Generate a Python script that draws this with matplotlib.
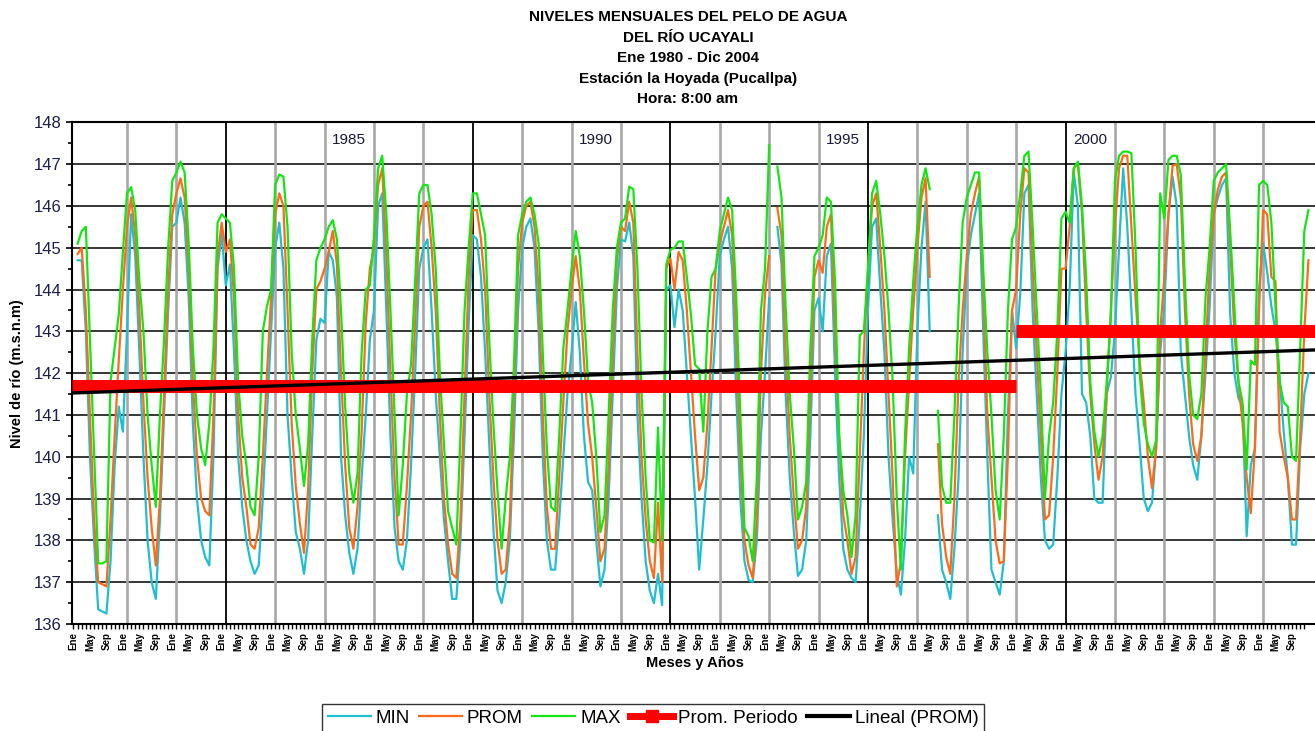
import numpy as np
import matplotlib
matplotlib.use("Agg")
import matplotlib.pyplot as plt
from matplotlib.lines import Line2D

plt.rcParams['font.family'] = ['Liberation Sans', 'DejaVu Sans']

nan = np.nan

# Monthly river levels (m.s.n.m), Ene 1980 - Dic 2004, one row per year
YEARS = list(range(1980, 2005))
MONTH_LABELS = ['Ene', 'May', 'Sep']

MAX_VALS = [
    145.1, 145.4, 145.5, 142.8, 140.1, 137.45, 137.45, 137.5, 141.8, 142.6, 143.4, 144.9,   # 1980
    146.3, 146.45, 145.9, 144.2, 143.0, 141.0, 139.8, 138.8, 141.0, 142.8, 145.0, 146.6,    # 1981
    146.8, 147.06, 146.8, 145.1, 142.6, 141.0, 140.2, 139.8, 140.8, 142.6, 145.6, 145.8,    # 1982
    145.7, 145.6, 144.5, 141.8, 140.5, 139.8, 138.8, 138.6, 140.0, 143.0, 143.6, 144.0,     # 1983
    146.5, 146.75, 146.7, 145.5, 142.5, 141.0, 140.2, 139.3, 140.3, 142.8, 144.7, 145.0,    # 1984
    145.2, 145.5, 145.66, 145.2, 143.5, 141.2, 139.6, 138.9, 139.6, 142.5, 144.0, 144.1,    # 1985
    145.3, 146.9, 147.2, 145.8, 143.5, 141.0, 138.6, 139.8, 141.5, 142.2, 144.2, 146.3,     # 1986
    146.5, 146.5, 145.8, 144.5, 142.0, 140.3, 138.7, 138.3, 137.9, 140.5, 143.5, 145.0,     # 1987
    146.3, 146.3, 145.8, 145.3, 142.8, 140.8, 139.2, 137.8, 139.0, 140.0, 142.2, 145.3,     # 1988
    145.8, 146.1, 146.2, 145.8, 145.1, 142.5, 140.2, 138.8, 138.7, 140.5, 142.6, 143.5,     # 1989
    144.5, 145.4, 144.8, 143.5, 141.8, 141.3, 140.0, 138.2, 138.6, 141.0, 143.5, 145.0,     # 1990
    145.6, 145.7, 146.46, 146.4, 144.5, 141.5, 139.5, 138.0, 137.95, 140.7, 138.0, 144.6,   # 1991
    144.95, 145.0, 145.15, 145.15, 144.3, 143.4, 142.2, 142.1, 140.6, 143.0, 144.3, 144.5,  # 1992
    145.4, 145.8, 146.2, 145.9, 143.8, 141.0, 138.3, 138.1, 137.5, 139.5, 143.5, 144.5,     # 1993
    147.45, nan, 146.94, 146.2, 143.6, 141.5, 140.2, 138.5, 138.8, 139.4, 142.6, 144.8,     # 1994
    145.0, 145.3, 146.2, 146.1, 144.2, 140.5, 139.2, 138.6, 137.6, 138.6, 142.9, 143.0,     # 1995
    144.5, 146.3, 146.6, 145.8, 144.8, 143.5, 141.8, 139.0, 137.3, 140.5, 142.6, 144.2,     # 1996
    145.5, 146.5, 146.9, 146.4, nan, 141.1, 139.3, 138.9, 138.9, 141.0, 143.5, 145.6,       # 1997
    146.2, 146.5, 146.8, 146.8, 144.5, 142.5, 141.0, 139.2, 138.5, 140.5, 143.5, 145.2,     # 1998
    145.5, 146.3, 147.2, 147.3, 145.5, 143.5, 141.5, 139.0, 140.5, 141.3, 143.0, 145.7,     # 1999
    145.86, 145.6, 146.9, 147.06, 146.0, 144.3, 141.8, 140.6, 140.0, 140.5, 141.8, 143.3,   # 2000
    146.6, 147.2, 147.3, 147.3, 147.26, 145.0, 142.0, 140.8, 140.3, 140.0, 140.4, 146.3,    # 2001
    145.7, 147.1, 147.2, 147.2, 146.75, 144.2, 142.0, 141.0, 140.9, 141.5, 143.8, 145.0,    # 2002
    146.6, 146.8, 146.9, 147.0, 145.4, 143.6, 141.8, 141.3, 139.7, 142.3, 142.2, 146.5,     # 2003
    146.6, 146.5, 145.6, 143.6, 141.8, 141.3, 141.2, 140.0, 139.9, 142.6, 145.4, 145.9,     # 2004
]

PROM_VALS = [
    144.85, 145.0, 143.5, 141.0, 138.5, 137.0, 136.95, 136.9, 138.5, 140.5, 142.3, 144.0,  # 1980
    145.5, 146.2, 145.3, 143.5, 141.3, 139.5, 138.3, 137.4, 139.0, 141.5, 144.0, 145.8,    # 1981
    146.3, 146.66, 146.2, 144.5, 141.8, 140.0, 139.0, 138.7, 138.6, 141.0, 144.8, 145.6,   # 1982
    144.9, 145.2, 143.8, 141.0, 139.5, 138.8, 137.9, 137.8, 138.3, 140.0, 142.0, 143.8,    # 1983
    145.8, 146.3, 146.0, 143.5, 140.8, 139.3, 138.4, 137.7, 139.2, 142.0, 144.0, 144.2,    # 1984
    144.5, 144.9, 145.4, 144.6, 142.0, 139.8, 138.3, 137.8, 138.8, 140.6, 143.2, 144.5,    # 1985
    145.0, 146.5, 146.9, 144.8, 142.0, 139.5, 137.9, 137.9, 139.3, 141.0, 143.2, 145.5,    # 1986
    146.0, 146.1, 145.0, 143.5, 141.0, 139.0, 137.9, 137.2, 137.1, 138.5, 141.5, 144.3,    # 1987
    145.9, 145.9, 145.2, 144.0, 141.5, 139.5, 138.0, 137.2, 137.3, 138.5, 141.5, 144.5,    # 1988
    145.6, 146.0, 146.1, 145.5, 144.0, 141.0, 138.8, 137.8, 137.8, 139.5, 141.3, 143.0,    # 1989
    144.0, 144.8, 144.0, 142.3, 140.8, 140.0, 138.8, 137.5, 137.8, 139.8, 142.5, 144.7,    # 1990
    145.5, 145.4, 146.1, 145.6, 142.5, 140.0, 138.5, 137.5, 137.1, 138.9, 137.0, 144.5,    # 1991
    144.75, 144.0, 144.9, 144.7, 143.5, 142.0, 140.5, 139.2, 139.5, 140.8, 142.6, 144.5,   # 1992
    145.1, 145.5, 145.9, 145.3, 142.8, 140.0, 138.0, 137.4, 137.1, 138.5, 142.0, 143.9,    # 1993
    144.8, nan, 145.95, 145.3, 142.5, 140.5, 139.0, 137.8, 138.0, 138.8, 141.5, 144.3,     # 1994
    144.7, 144.4, 145.5, 145.8, 143.0, 140.5, 138.6, 138.0, 137.2, 137.6, 140.0, 142.5,    # 1995
    144.5, 146.0, 146.3, 145.0, 143.5, 141.5, 139.5, 136.9, 137.5, 140.0, 141.8, 143.5,    # 1996
    145.0, 146.2, 146.66, 144.3, nan, 140.3, 138.4, 137.6, 137.2, 139.0, 141.8, 143.5,     # 1997
    144.8, 145.8, 146.3, 146.7, 144.0, 141.0, 139.5, 138.0, 137.45, 137.5, 140.0, 143.5,   # 1998
    144.0, 145.8, 146.9, 146.8, 144.5, 142.5, 140.5, 138.5, 138.6, 140.0, 142.0, 144.5,    # 1999
    144.5, 145.5, 146.9, 147.0, 145.8, 143.5, 141.5, 140.3, 139.45, 140.0, 141.5, 143.5,   # 2000
    145.5, 146.9, 147.2, 147.2, 145.5, 143.8, 142.3, 141.3, 140.0, 139.25, 140.2, 143.0,   # 2001
    144.3, 145.8, 146.96, 147.0, 146.2, 143.5, 141.5, 140.3, 139.9, 140.5, 142.5, 144.5,   # 2002
    145.8, 146.4, 146.7, 146.8, 145.0, 143.0, 141.8, 140.8, 139.5, 138.65, 140.2, 143.5,   # 2003
    145.9, 145.8, 144.3, 144.2, 140.6, 140.0, 139.5, 138.5, 138.5, 140.5, 143.0, 144.7,    # 2004
]

MIN_VALS = [
    144.7, 144.7, 143.0, 140.0, 138.0, 136.35, 136.3, 136.25, 137.5, 139.8, 141.2, 140.6,  # 1980
    143.0, 145.8, 144.8, 142.5, 140.0, 138.0, 137.0, 136.6, 138.5, 141.0, 143.5, 145.5,    # 1981
    145.6, 146.2, 145.6, 143.8, 140.8, 139.0, 138.0, 137.6, 137.4, 140.0, 144.5, 145.35,   # 1982
    144.1, 144.6, 142.5, 140.0, 138.8, 138.0, 137.5, 137.2, 137.4, 139.0, 141.0, 143.0,    # 1983
    145.0, 145.6, 144.5, 141.0, 139.5, 138.2, 137.8, 137.2, 138.0, 140.5, 142.8, 143.3,    # 1984
    143.2, 144.9, 144.7, 143.8, 140.0, 138.6, 137.7, 137.2, 137.8, 139.5, 141.0, 142.8,    # 1985
    143.5, 146.0, 146.3, 143.5, 140.5, 138.3, 137.5, 137.3, 138.0, 139.8, 142.0, 144.5,    # 1986
    145.0, 145.2, 143.5, 141.5, 140.0, 138.5, 137.5, 136.6, 136.6, 138.0, 140.5, 143.2,    # 1987
    145.3, 145.2, 144.3, 142.5, 140.3, 138.3, 136.8, 136.5, 137.0, 138.0, 140.5, 143.5,    # 1988
    145.0, 145.5, 145.7, 145.0, 143.0, 140.0, 138.0, 137.3, 137.3, 138.5, 140.0, 141.5,    # 1989
    142.5, 143.7, 142.5, 140.5, 139.4, 139.2, 138.0, 136.9, 137.3, 139.0, 141.5, 144.0,    # 1990
    145.2, 145.15, 145.6, 144.8, 141.0, 139.0, 137.5, 136.8, 136.5, 137.2, 136.45, 144.0,  # 1991
    144.1, 143.1, 144.0, 143.5, 142.0, 140.5, 139.0, 137.3, 138.5, 139.8, 141.5, 143.0,    # 1992
    144.8, 145.2, 145.5, 144.5, 141.5, 139.0, 137.5, 137.05, 137.0, 138.0, 140.5, 142.0,   # 1993
    143.8, nan, 145.5, 144.6, 141.5, 139.5, 138.2, 137.15, 137.3, 138.0, 140.5, 143.5,     # 1994
    143.8, 143.0, 144.8, 145.1, 142.0, 139.5, 137.8, 137.3, 137.1, 137.0, 138.5, 140.5,    # 1995
    143.5, 145.5, 145.7, 144.0, 142.5, 140.0, 138.5, 137.2, 136.7, 138.0, 140.0, 139.6,    # 1996
    143.0, 145.0, 146.1, 143.0, nan, 138.6, 137.3, 137.0, 136.6, 137.8, 139.5, 142.5,      # 1997
    144.5, 145.3, 145.8, 146.3, 143.0, 140.0, 137.3, 137.0, 136.7, 137.5, 141.0, 143.5,    # 1998
    142.6, 143.9, 146.3, 146.5, 143.5, 141.5, 139.5, 138.0, 137.8, 137.9, 139.5, 141.5,    # 1999
    142.5, 144.0, 146.8, 146.0, 141.5, 141.3, 140.5, 139.0, 138.9, 138.9, 141.5, 141.9,    # 2000
    143.0, 145.0, 146.9, 145.5, 143.5, 141.5, 140.3, 139.0, 138.7, 138.9, 140.2, 142.5,    # 2001
    143.6, 145.8, 146.7, 146.0, 142.5, 141.5, 140.5, 139.8, 139.45, 140.5, 142.0, 143.6,   # 2002
    145.8, 146.2, 146.5, 146.66, 143.4, 142.0, 141.4, 141.2, 138.1, 139.8, 140.2, 144.0,   # 2003
    145.1, 144.4, 143.6, 143.0, 141.9, 140.6, 139.5, 137.9, 137.9, 140.2, 141.5, 142.0,    # 2004
]

# Prom. Periodo (mean PROM for each period)
PERIOD_FIRST_YEAR = [1980, 1999]
PERIOD_LAST_YEAR = [1998, 2004]
PERIOD_MEAN = [141.7, 143.0]

# Lineal (PROM) trend, value at Ene 1980 and at Dic 2004
TREND_FIRST = 141.53
TREND_LAST = 142.55

YEAR_LABELS = [1985, 1990, 1995, 2000]
BLACK_YEAR_LINES = [1983, 1988, 1992, 1996, 2000]

TITLE_LINES = ['NIVELES MENSUALES DEL PELO DE AGUA', 'DEL RÍO UCAYALI',
               'Ene 1980 - Dic 2004', 'Estación la Hoyada (Pucallpa)', 'Hora: 8:00 am']

C_MIN = '#1fbfd0'
C_PROM = '#ff6a1a'
C_MAX = '#14e614'

n = len(PROM_VALS)
assert n == len(MIN_VALS) == len(MAX_VALS) == 12 * len(YEARS)
x = np.arange(n)
xlim = (-1.36, 300.6)

W, H = 1315, 731
fig = plt.figure(figsize=(W / 100, H / 100), dpi=100)
ax = fig.add_axes([72 / W, 1 - 624 / H, (W - 72) / W, (624 - 122.3) / H])

# year separators
for k, yr in enumerate(YEARS[1:], start=1):
    col = 'black' if yr in BLACK_YEAR_LINES else '#a8a8a8'
    lw = 1.3 if yr in BLACK_YEAR_LINES else 1.9
    ax.axvline(12 * k, color=col, lw=lw, zorder=1)

ax.set_ylim(136, 148)
ax.set_xlim(*xlim)
ax.set_yticks(np.arange(136, 149, 1))
ax.set_yticks(np.arange(136.5, 148, 1), minor=True)
ax.yaxis.grid(True, which='major', color='black', lw=1.1, zorder=0.5)
ax.set_axisbelow(True)

ax.plot(x, MIN_VALS, color=C_MIN, lw=1.6, zorder=3, label='MIN')
ax.plot(x, PROM_VALS, color=C_PROM, lw=1.6, zorder=3, label='PROM')
ax.plot(x, MAX_VALS, color=C_MAX, lw=1.6, zorder=3, label='MAX')

for y0, y1, m in zip(PERIOD_FIRST_YEAR, PERIOD_LAST_YEAR, PERIOD_MEAN):
    i0 = (y0 - YEARS[0]) * 12
    i1 = (y1 - YEARS[0] + 1) * 12
    left = xlim[0] if i0 == 0 else i0
    right = xlim[1] if y1 == YEARS[-1] else i1
    ax.plot([left, right], [m, m], color='red', lw=9.4, solid_capstyle='butt', zorder=4)

slope = (TREND_LAST - TREND_FIRST) / (n - 1)
tx = np.array(xlim)
ax.plot(tx, TREND_FIRST + slope * tx, color='black', lw=2.4, zorder=5)

for yr in YEAR_LABELS:
    ax.text((yr - YEARS[0]) * 12 + 6, 147.58, str(yr), ha='center', va='center',
            fontsize=11, color='#1a1a3a', zorder=6)

# x axis: month ticks, labels every 4 months
ax.set_xticks(x[::4] - 1.0)
ax.set_xticklabels(MONTH_LABELS * len(YEARS), rotation=90, fontsize=7, fontweight='bold')
ax.set_xticks(x - 1.0, minor=True)
ax.tick_params(axis='x', which='both', direction='out', length=3.5, width=1, pad=2)
ax.tick_params(axis='y', which='major', direction='out', length=4.5, width=1.2, pad=3,
               labelsize=12, labelcolor='#1c1f4a')
ax.tick_params(axis='y', which='minor', direction='out', length=3, width=1.2)

for s in ['left', 'bottom', 'top']:
    ax.spines[s].set_linewidth(1.5)
ax.spines['right'].set_visible(False)

for k, line in enumerate(TITLE_LINES):
    fig.text(688 / W, 1 - (17 + 20.5 * k) / H, line, ha='center', va='center',
             fontsize=11, fontweight='bold')

fig.text(695 / W, 1 - 663 / H, 'Meses y Años', ha='center', va='center',
         fontsize=10.5, fontweight='bold')
fig.text(17 / W, 1 - 374 / H, 'Nivel de río (m.s.n.m)', ha='center', va='center',
         rotation=90, fontsize=10.5, fontweight='bold')

handles = [
    Line2D([], [], color=C_MIN, lw=1.6),
    Line2D([], [], color=C_PROM, lw=1.6),
    Line2D([], [], color=C_MAX, lw=1.6),
    Line2D([], [], color='red', lw=5, marker='s', markersize=9),
    Line2D([], [], color='black', lw=3),
]
labels = ['MIN', 'PROM', 'MAX', 'Prom. Periodo', 'Lineal (PROM)']
leg = fig.legend(handles, labels, loc='upper left', bbox_to_anchor=(322 / W, 1 - 704 / H),
                 ncol=5, fontsize=13.5, frameon=True, fancybox=False, edgecolor='black',
                 handlelength=2.3, handletextpad=0.25, columnspacing=0.5,
                 borderpad=0.3, borderaxespad=0)
leg.get_frame().set_linewidth(1.0)

fig.savefig('out.png', dpi=100)
